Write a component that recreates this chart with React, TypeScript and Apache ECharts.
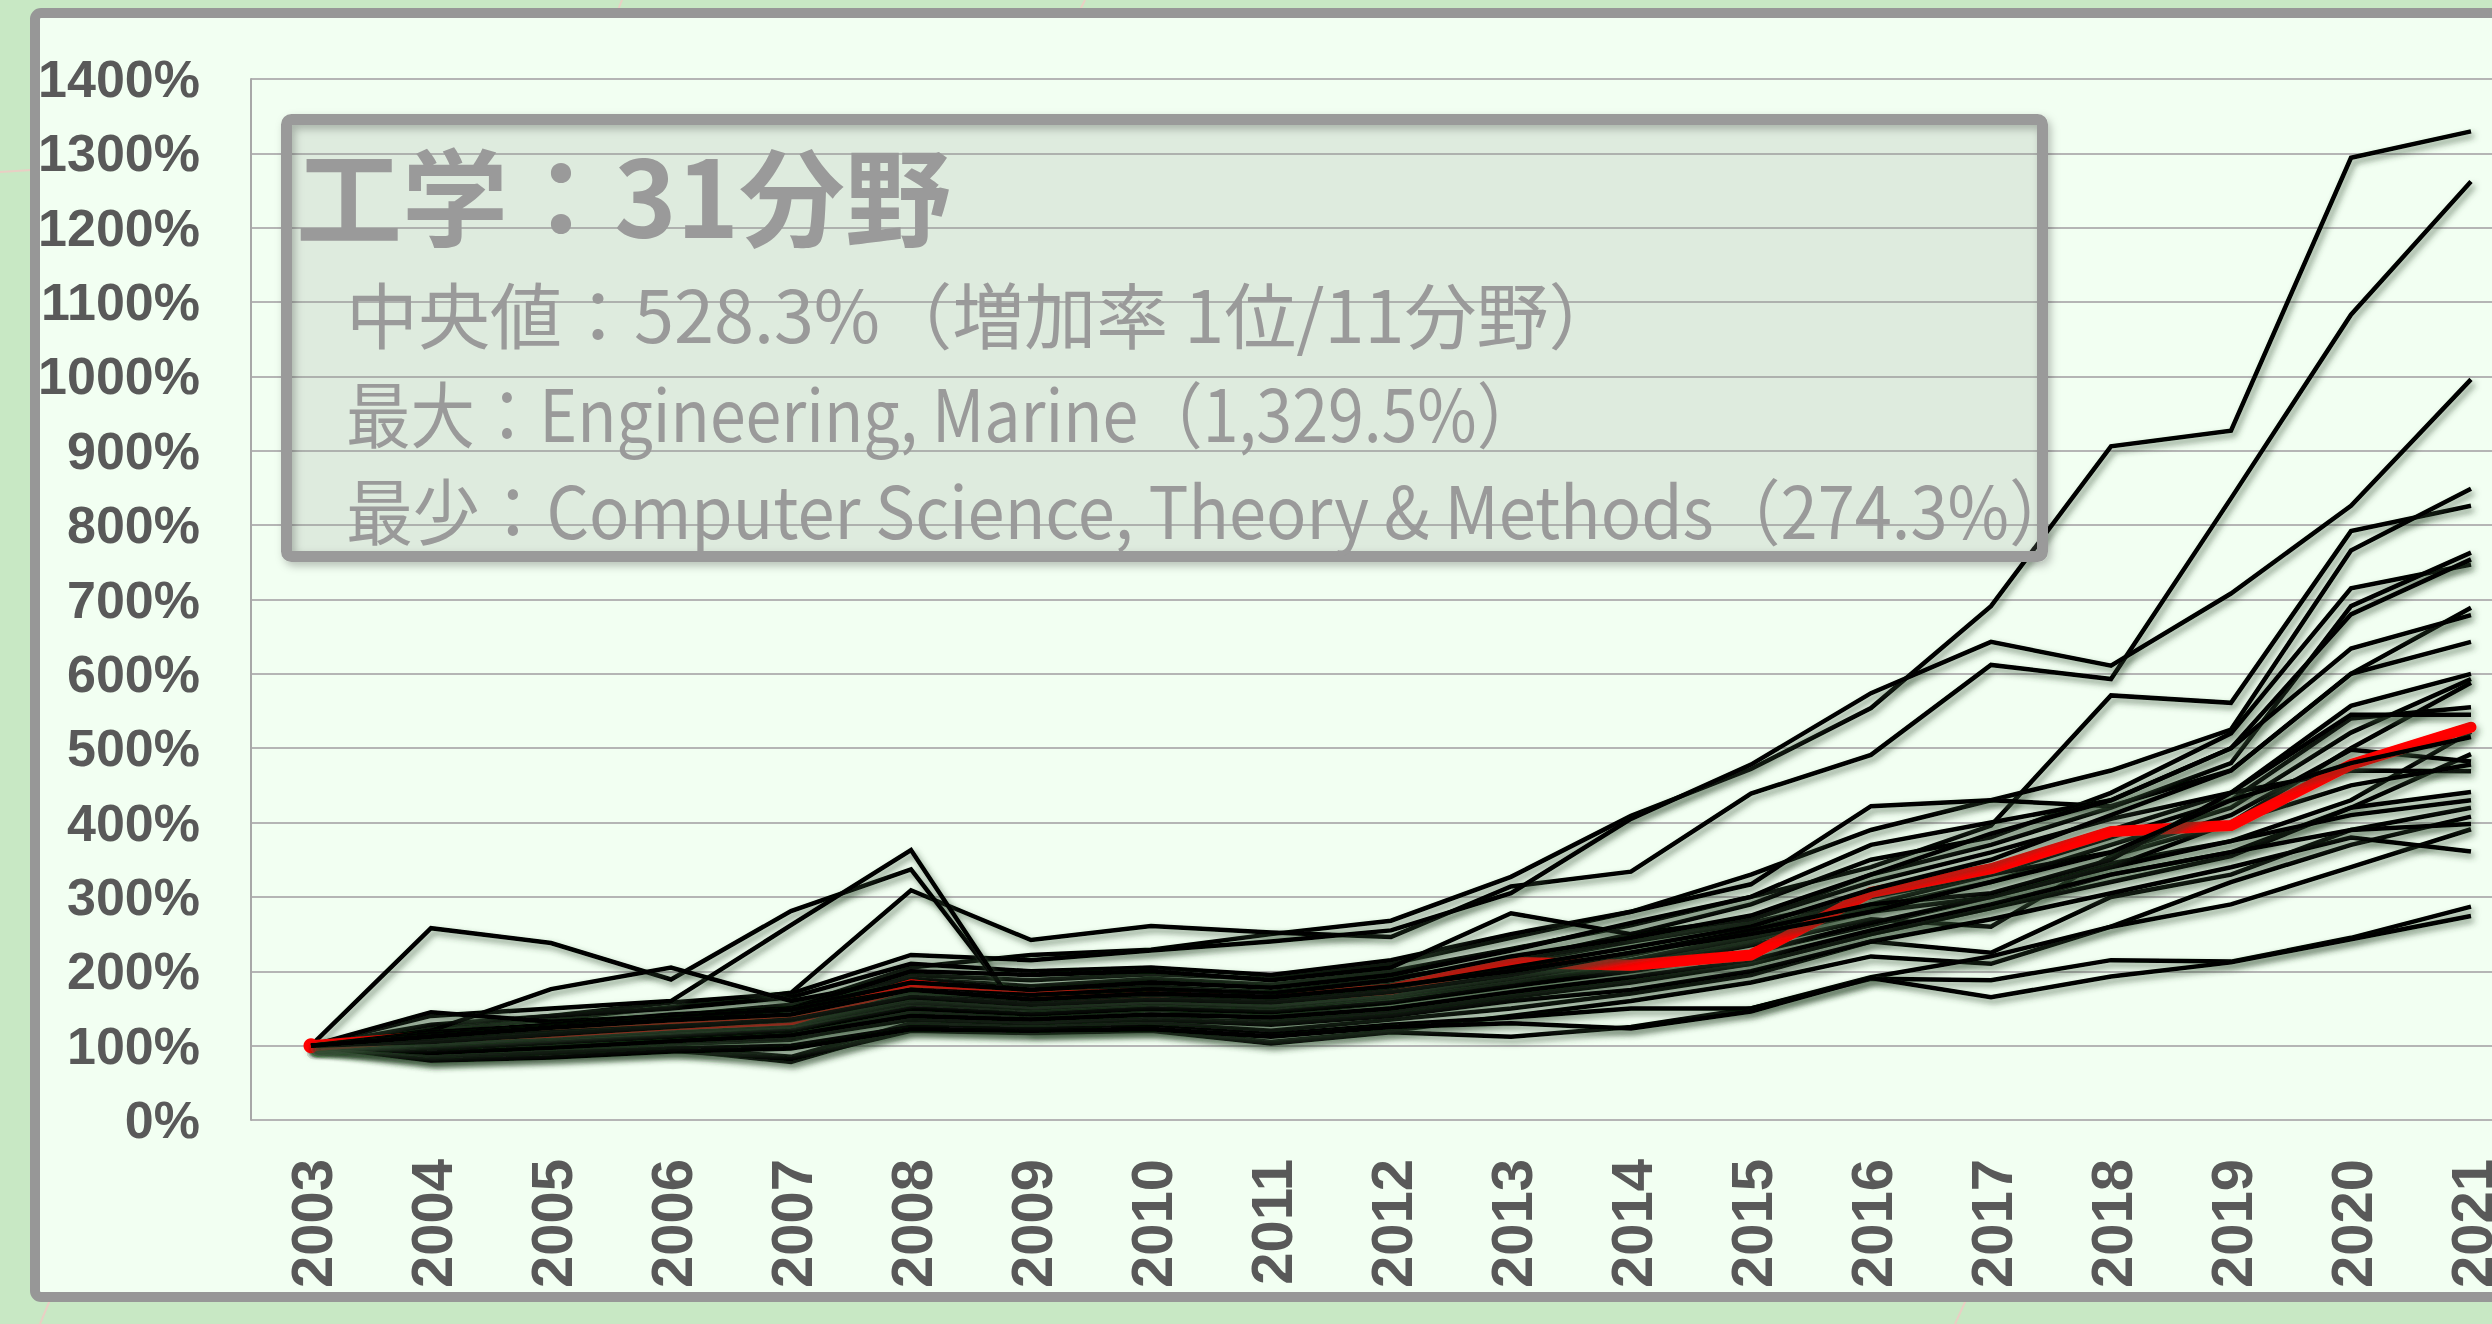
import React, { useEffect, useRef } from "react";
import * as echarts from "echarts";

const years = ["2003","2004","2005","2006","2007","2008","2009","2010","2011","2012","2013","2014","2015","2016","2017","2018","2019","2020","2021"];

const titleText = "工学：31分野";
const medianText = "中央値：528.3%（増加率 1位/11分野）";
const maxText = "最大：Engineering, Marine（1,329.5%）";
const minText = "最少：Computer Science, Theory & Methods（274.3%）";

const medianValues = [100,112,118,128,135,182,166,170,164,176,212,208,222,306,338,388,396,478,528.3];

const field01 = [100,115,128,140,152,205,222,229,250,268,327,409,472,554,691,906,927,1294,1329.5];
const field02 = [100,122,135,152,171,309,242,261,252,246,314,334,439,491,612,593,836,1083,1262];
const field03 = [100,125,140,158,170,222,215,228,240,255,305,405,478,574,643,611,708,826,996];
const field04 = [100,110,122,135,150,190,180,190,182,200,230,262,300,340,396,571,561,792,826];
const field05 = [100,112,126,140,155,195,188,196,190,210,245,280,330,390,430,470,525,766,849];
const field06 = [100,105,118,130,140,180,170,178,172,190,215,250,290,350,380,440,520,715,747];
const field07 = [100,108,120,128,138,170,165,172,168,182,210,240,270,330,370,420,480,691,763];
const field08 = [100,118,128,142,150,185,175,185,178,195,228,265,300,370,400,430,500,680,754];
const field09 = [100,128,140,150,165,210,200,205,195,215,250,280,317,422,430,422,470,600,689];
const field10 = [100,115,125,138,148,175,168,176,170,188,220,245,275,330,385,430,500,634,679];
const field11 = [100,110,118,126,134,165,160,168,162,178,205,232,260,310,350,410,470,600,643];
const field12 = [100,102,112,122,130,160,152,160,155,170,195,222,255,300,340,390,440,557,600];
const field13 = [100,96,105,115,122,150,145,152,148,162,185,210,240,285,320,370,420,521,593];
const field14 = [100,92,100,110,118,145,140,148,142,158,180,205,235,270,260,355,400,500,588];
const field15 = [100,98,108,118,126,155,148,156,150,165,190,215,248,290,330,380,430,540,555];
const field16 = [100,258,238,189,281,337,128,140,150,165,185,205,225,262,300,345,375,430,522];
const field17 = [100,140,150,160,262,363,120,128,135,150,170,190,210,250,285,330,360,420,492];
const field18 = [100,120,176,205,160,190,175,180,170,190,215,240,265,300,330,360,410,498,482];
const field19 = [100,145,132,140,150,200,195,200,188,205,278,250,270,320,360,405,440,470,469];
const field20 = [100,88,95,102,108,140,132,138,130,145,165,185,210,250,285,320,355,420,441];
const field21 = [100,85,92,98,85,130,125,130,120,135,150,170,195,240,225,300,330,390,420];
const field22 = [100,82,88,95,78,125,118,122,105,120,140,160,185,220,210,260,320,370,408];
const field23 = [100,80,86,93,82,120,117,120,103,118,112,125,150,192,220,260,290,340,391];
const field24 = [100,90,98,105,110,135,130,135,128,140,160,175,200,240,270,305,340,380,361];
const field25 = [100,84,90,96,100,125,122,125,115,128,138,150,150,190,188,215,213,245,287];
const field26 = [100,80,84,92,96,122,120,122,112,125,130,123,146,191,165,193,212,243,274.3];
const field27 = [100,105,115,125,135,165,155,162,158,172,195,225,255,290,305,350,440,545,545];
const field28 = [100,112,124,134,142,175,162,170,165,180,200,225,250,280,320,360,430,480,515];
const field29 = [100,100,110,120,128,158,150,158,152,168,190,215,245,280,300,340,400,450,478];
const field30 = [100,95,104,112,120,150,142,150,145,158,180,200,225,265,300,340,375,410,430];
const field31 = [100,90,97,106,114,140,135,142,138,150,172,192,215,255,290,330,360,390,398];

const fields = [field01,field02,field03,field04,field05,field06,field07,field08,field09,field10,field11,field12,field13,field14,field15,field16,field17,field18,field19,field20,field21,field22,field23,field24,field25,field26,field27,field28,field29,field30,field31];
// fields drawn over the median line (the others lie beneath it)
const overMedian = [8, 10, 11, 27, 28];

export default function App() {
  const ref = useRef<HTMLDivElement>(null);
  useEffect(() => {
    if (!ref.current) return;
    const chart = echarts.init(ref.current, undefined, { renderer: "svg" });
    const textBase = { fill: "#9a9a9a", verticalAlign: "middle", textVerticalAlign: "middle", align: "left", textAlign: "left" };
    const bodyFont = "Noto Sans CJK JP";
    const lineShadow = { shadowColor: "rgba(50,75,50,0.6)", shadowBlur: 6, shadowOffsetX: 3, shadowOffsetY: 4 };
    const option: any = {
      animation: false,
      backgroundColor: "#c8e8c4",
      graphic: [
        { type: "line", z: -2, shape: { x1: 0, y1: 172, x2: 32, y2: 170 }, style: { stroke: "#e9cfc4", lineWidth: 2 } },
        { type: "line", z: -2, shape: { x1: 622, y1: 0, x2: 618, y2: 10 }, style: { stroke: "#e9cfc4", lineWidth: 2 } },
        { type: "line", z: -2, shape: { x1: 50, y1: 1300, x2: 40, y2: 1324 }, style: { stroke: "#e9cfc4", lineWidth: 2 } },
        { type: "line", z: -2, shape: { x1: 1966, y1: 1300, x2: 1955, y2: 1324 }, style: { stroke: "#e9cfc4", lineWidth: 2 } },
        { type: "line", z: -2, shape: { x1: 1085, y1: 0, x2: 1080, y2: 10 }, style: { stroke: "#e9cfc4", lineWidth: 2 } },
        {
          type: "rect", z: -1,
          shape: { x: 35, y: 13, width: 2600, height: 1284, r: 6 },
          style: { fill: "#f2fff2", stroke: "#979797", lineWidth: 10 },
        },
        {
          type: "rect", z: 100,
          shape: { x: 286.5, y: 119.5, width: 1756, height: 437, r: 4 },
          style: { fill: "rgba(150,165,150,0.22)" },
        },
        {
          type: "rect", z: 101,
          shape: { x: 286.5, y: 119.5, width: 1756, height: 437, r: 5 },
          style: { fill: "none", stroke: "#9a9a9a", lineWidth: 11, shadowBlur: 8, shadowColor: "rgba(0,0,0,0.25)", shadowOffsetX: 3, shadowOffsetY: 4 },
        },
        {
          type: "text", z: 102, x: 296, y: 192,
          style: { ...textBase, text: titleText, fontFamily: "Noto Sans CJK JP", fontWeight: "bold", fontSize: 106 },
        },
        {
          type: "text", z: 102, x: 346, y: 311, scaleX: 1.0,
          style: { ...textBase, text: medianText, fontFamily: bodyFont, fontSize: 72 },
        },
        {
          type: "text", z: 102, x: 346, y: 411, scaleX: 0.895,
          style: { ...textBase, text: maxText, fontFamily: bodyFont, fontSize: 72 },
        },
        {
          type: "text", z: 102, x: 346, y: 507, scaleX: 0.928,
          style: { ...textBase, text: minText, fontFamily: bodyFont, fontSize: 72 },
        },
      ],
      grid: { left: 251, top: 79, width: 2280, height: 1041, containLabel: false },
      xAxis: {
        type: "category",
        data: years,
        boundaryGap: true,
        axisLine: { show: true, lineStyle: { color: "#bdbdbd", width: 4, shadowColor: "rgba(0,0,0,0.35)", shadowBlur: 4, shadowOffsetY: 3 } },
        axisTick: { show: false },
        splitLine: { show: false },
        axisLabel: { rotate: 90, margin: 39, interval: 0, fontFamily: "Liberation Sans", fontWeight: "bold", fontSize: 58, color: "#595959" },
      },
      yAxis: {
        type: "value",
        min: 0,
        max: 1400,
        interval: 100,
        axisLine: { show: true, lineStyle: { color: "#a8a8a8", width: 2 } },
        axisTick: { show: false },
        splitLine: { show: true, lineStyle: { color: "#b5b5b5", width: 2 } },
        axisLabel: { formatter: (v: number) => v + "%", margin: 51, fontFamily: "Liberation Sans", fontWeight: "bold", fontSize: 52, color: "#595959" },
      },
      series: [
        {
          type: "line",
          name: "median",
          data: medianValues.map((v, i) => (i === 0 ? { value: v, symbol: "circle", symbolSize: 15 } : v)),
          symbol: "none",
          showSymbol: true,
          silent: true,
          z: 3,
          itemStyle: { color: "#ff0000", borderWidth: 0 },
          lineStyle: { color: "#ff0000", width: 11, cap: "round", join: "round", ...lineShadow, shadowColor: "rgba(50,75,50,0.5)" },
          emphasis: { disabled: true },
        },
        ...fields.map((d, i) => ({
          type: "line",
          name: "field" + (i + 1),
          data: d,
          symbol: "none",
          showSymbol: false,
          silent: true,
          z: overMedian.indexOf(i + 1) >= 0 ? 4 : 2,
          lineStyle: { color: "#000000", width: 4.5, join: "miter", ...lineShadow },
          emphasis: { disabled: true },
        })),
      ],
    };
    chart.setOption(option);
    return () => chart.dispose();
  }, []);
  return (
    <div style={{ position: "fixed", left: 0, top: 0, width: 2492, height: 1324, overflow: "hidden" }}>
      <div ref={ref} style={{ width: 2600, height: 1324 }} />
    </div>
  );
}
